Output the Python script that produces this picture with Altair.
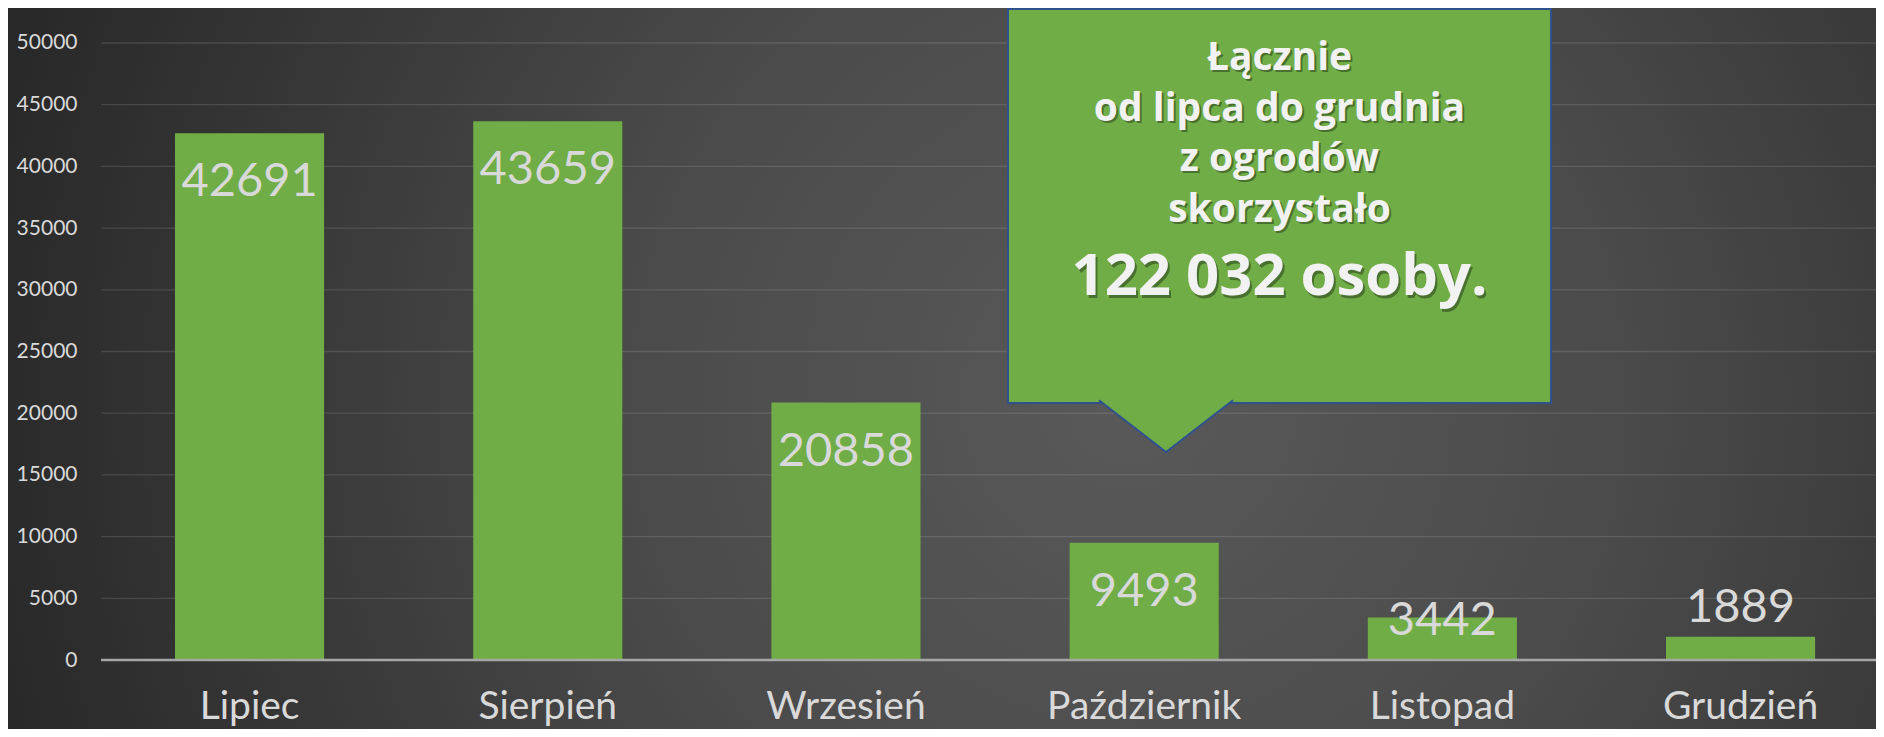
import altair as alt
import pandas as pd

# ---- data ----
months = ["Lipiec", "Sierpień", "Wrzesień", "Październik", "Listopad", "Grudzień"]
visitors = [42691, 43659, 20858, 9493, 3442, 1889]
y_ticks = [0, 5000, 10000, 15000, 20000, 25000, 30000, 35000, 40000, 45000, 50000]
callout_lines = ["Łącznie", "od lipca do grudnia", "z ogrodów", "skorzystało"]
total = sum(visitors)
callout_total = f"{total:,}".replace(",", " ") + " osoby."

df = pd.DataFrame({"month": months, "value": visitors})
ticks_df = pd.DataFrame({"tick": y_ticks})
one = pd.DataFrame({"k": [1]})

# ---- layout / style ----
W, H = 1775, 652
PAD_L, PAD_B = 93, 69
GREEN = "#70ad47"
BORDER = "#2f528f"
LABEL = "#d9d9d9"

xscale = alt.Scale(domain=months, paddingInner=0.5, paddingOuter=0.2262, align=0.5486)
yscale = alt.Scale(domain=[0, 52836], nice=False, zero=True)

x_axis = alt.Axis(title=None, labelAngle=0, labelFont="Lato", labelFontSize=39,
                  labelColor=LABEL, labelPadding=58, labelBaseline="alphabetic",
                  ticks=False, tickSize=0, domain=False, grid=False,
                  labelOverlap=False, labelLimit=600, zindex=1)
y_axis = alt.Axis(title=None, values=y_ticks, format="d", labelFont="Lato",
                  labelFontSize=21, labelColor=LABEL, labelPadding=24,
                  ticks=False, tickSize=0, domain=False, grid=False,
                  labelFlush=False, zindex=1)


def X():
    return alt.X("month:N", scale=xscale, sort=months, axis=x_axis, title=None)


def Y(field):
    return alt.Y(field, scale=yscale, axis=y_axis, title=None)


bg = alt.Chart(one).mark_rect(
    color={
        "gradient": "radial",
        "x1": 0.6, "y1": 0.517, "r1": 0,
        "x2": 0.6, "y2": 0.517, "r2": 0.65,
        "stops": [
            {"offset": 0, "color": "#595959"},
            {"offset": 0.4, "color": "#4b4b4b"},
            {"offset": 1, "color": "#262626"},
        ],
    }
).encode(
    x=alt.value(-PAD_L), x2=alt.value(W), y=alt.value(0), y2=alt.value(H + PAD_B)
)

grid = alt.Chart(ticks_df).transform_filter("datum.tick > 0").mark_rule(
    color="white", opacity=0.12, strokeWidth=1.3
).encode(y=Y("tick:Q"), x=alt.value(0), x2=alt.value(W))

bars = alt.Chart(df).mark_bar(color=GREEN).encode(x=X(), y=Y("value:Q"))

zero = alt.Chart(ticks_df).transform_filter("datum.tick == 0").mark_rule(
    color="#a6a6a6", strokeWidth=2.5
).encode(y=Y("tick:Q"), x=alt.value(0), x2=alt.value(W))

txt_style = dict(font="Lato", fontSize=47, color=LABEL, baseline="alphabetic", align="center")

lab_inside = alt.Chart(df).transform_filter("datum.value >= 5000").mark_text(
    dy=63, **txt_style
).encode(x=X(), y=Y("value:Q"), text="value:Q")

lab_clamped = alt.Chart(df).transform_filter(
    "datum.value >= 2500 && datum.value < 5000"
).transform_calculate(base="0").mark_text(dy=-25, **txt_style).encode(
    x=X(), y=Y("base:Q"), text="value:Q"
)

lab_outside = alt.Chart(df).transform_filter("datum.value < 2500").mark_text(
    dy=-15, **txt_style
).encode(x=X(), y=Y("value:Q"), text="value:Q")

# ---- callout ----
box = alt.Chart(one).mark_rect(fill=GREEN, stroke=BORDER, strokeWidth=2).encode(
    x=alt.value(907), x2=alt.value(1450), y=alt.value(1), y2=alt.value(395)
)

pointer = alt.Chart(one).mark_point(
    shape="M -1 -0.04 L 0 0.731 L 1 -0.04",
    size=134 * 134, filled=True, fill=GREEN, stroke=BORDER, strokeWidth=2,
    opacity=1, fillOpacity=1, strokeOpacity=1,
).encode(x=alt.value(1065), y=alt.value(395))

cx = 1178.5
lines_df = pd.DataFrame({"t": [callout_lines]})
total_df = pd.DataFrame({"t": [callout_total]})

small = dict(font="Open Sans", fontWeight="bold", fontSize=39, align="center",
             baseline="alphabetic", lineHeight=50.7)
big = dict(font="Open Sans", fontWeight="bold", fontSize=58, align="center",
           baseline="alphabetic")

sh_small = alt.Chart(lines_df).mark_text(color="black", opacity=0.35, dx=2, dy=2, **small).encode(
    x=alt.value(cx), y=alt.value(62), text="t")
t_small = alt.Chart(lines_df).mark_text(color="#f2f2f2", **small).encode(
    x=alt.value(cx), y=alt.value(62), text="t")
sh_big = alt.Chart(total_df).mark_text(color="black", opacity=0.35, dx=2, dy=3, **big).encode(
    x=alt.value(cx), y=alt.value(287), text="t:N")
t_big = alt.Chart(total_df).mark_text(color="#f2f2f2", **big).encode(
    x=alt.value(cx), y=alt.value(287), text="t:N")

chart = alt.layer(
    bg, grid, bars, zero, lab_inside, lab_clamped, lab_outside,
    box, pointer, sh_small, t_small, sh_big, t_big
).properties(
    width=W, height=H,
    padding={"left": PAD_L, "top": 0, "right": 0, "bottom": PAD_B},
    autosize=alt.AutoSizeParams(type="none"),
    background="#2b2b2b",
).configure_view(stroke=None)

chart.save("out.html", embed_options={"renderer": "svg", "actions": False})
